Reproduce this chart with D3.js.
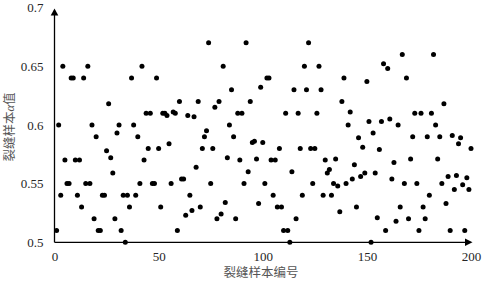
<!DOCTYPE html>
<html>
<head>
<meta charset="utf-8">
<script src="https://cdn.jsdelivr.net/npm/d3@7"></script>
<style>
  body { margin: 0; background: #fff; }
  svg { display: block; }
</style>
</head>
<body>
<svg id="chart" width="482" height="285"></svg>
<script>
// alpha value of each crack sample, sample no. 1..200
const alphaValues = [
  0.51, 0.60, 0.54, 0.65, 0.57, 0.55, 0.55, 0.64, 0.64, 0.57,
  0.54, 0.57, 0.53, 0.64, 0.55, 0.65, 0.55, 0.60, 0.52, 0.59,
  0.51, 0.51, 0.54, 0.54, 0.578, 0.618, 0.572, 0.559, 0.52, 0.593,
  0.60, 0.51, 0.54, 0.50, 0.54, 0.53, 0.64, 0.60, 0.54, 0.59,
  0.55, 0.65, 0.57, 0.61, 0.58, 0.61, 0.55, 0.55, 0.64, 0.58,
  0.53, 0.61, 0.61, 0.608, 0.584, 0.55, 0.611, 0.61, 0.51, 0.62,
  0.554, 0.554, 0.523, 0.608, 0.54, 0.527, 0.607, 0.564, 0.62, 0.53,
  0.58, 0.59, 0.595, 0.67, 0.55, 0.58, 0.615, 0.52, 0.62, 0.524,
  0.65, 0.534, 0.572, 0.60, 0.63, 0.59, 0.52, 0.61, 0.57, 0.61,
  0.55, 0.67, 0.56, 0.62, 0.585, 0.586, 0.571, 0.533, 0.632, 0.585,
  0.55, 0.64, 0.64, 0.57, 0.54, 0.57, 0.53, 0.58, 0.53, 0.51,
  0.61, 0.51, 0.50, 0.56, 0.63, 0.52, 0.61, 0.58, 0.54, 0.65,
  0.63, 0.67, 0.58, 0.55, 0.58, 0.61, 0.65, 0.63, 0.54, 0.57,
  0.559, 0.562, 0.54, 0.55, 0.571, 0.548, 0.526, 0.62, 0.64, 0.55,
  0.60, 0.611, 0.554, 0.566, 0.53, 0.589, 0.556, 0.581, 0.559, 0.637,
  0.603, 0.50, 0.593, 0.559, 0.521, 0.579, 0.603, 0.652, 0.51, 0.648,
  0.605, 0.554, 0.568, 0.518, 0.60, 0.53, 0.66, 0.55, 0.64, 0.52,
  0.571, 0.59, 0.61, 0.55, 0.51, 0.61, 0.53, 0.52, 0.59, 0.54,
  0.61, 0.66, 0.60, 0.571, 0.59, 0.55, 0.618, 0.533, 0.556, 0.51,
  0.591, 0.545, 0.557, 0.584, 0.589, 0.549, 0.51, 0.555, 0.545, 0.58
];

const xTicks = [0, 50, 100, 150, 200];
const yTicks = [0.5, 0.55, 0.6, 0.65, 0.7];
const xTitle = "裂缝样本编号";
const yTitle = "裂缝样本";

const svg = d3.select("#chart");

const x = d3.scaleLinear().domain([0, 200]).range([54.5, 471]);
const y = d3.scaleLinear().domain([0.5, 0.7]).range([242.3, 7.5]);

const tickFont = "'Liberation Serif', 'Times New Roman', serif";

// y tick labels
svg.append("g")
  .attr("transform", "translate(54.5,0)")
  .call(d3.axisLeft(y).tickValues(yTicks).tickSize(0).tickPadding(11)
    .tickFormat(d => d3.format("")(+d.toFixed(2))))
  .call(g => g.select(".domain").remove())
  .selectAll("text")
  .attr("font-family", tickFont)
  .attr("font-size", 13)
  .attr("fill", "#262626");

// x tick labels
svg.append("g")
  .attr("transform", "translate(0,242.3)")
  .call(d3.axisBottom(x).tickValues(xTicks).tickSize(0).tickPadding(9))
  .call(g => g.select(".domain").remove())
  .selectAll("text")
  .attr("font-family", tickFont)
  .attr("font-size", 13)
  .attr("fill", "#262626");

// axis lines with arrow heads
svg.append("line")
  .attr("x1", x(0)).attr("y1", y(0.5))
  .attr("x2", 465).attr("y2", y(0.5))
  .attr("stroke", "#000").attr("stroke-width", 1.3);
svg.append("path")
  .attr("d", `M465,${y(0.5) - 3.8}L472.5,${y(0.5)}L465,${y(0.5) + 3.8}Z`)
  .attr("fill", "#000");

svg.append("line")
  .attr("x1", x(0)).attr("y1", y(0.5))
  .attr("x2", x(0)).attr("y2", 15)
  .attr("stroke", "#000").attr("stroke-width", 1.3);
svg.append("path")
  .attr("d", `M${x(0) - 3.8},15.5L${x(0)},8.5L${x(0) + 3.8},15.5Z`)
  .attr("fill", "#000");

// points
svg.append("g")
  .selectAll("circle")
  .data(alphaValues)
  .enter()
  .append("circle")
  .attr("cx", (d, i) => x(i + 1))
  .attr("cy", d => y(d))
  .attr("r", 2.5)
  .attr("fill", "#000");

// axis titles
svg.append("text")
  .attr("x", 261)
  .attr("y", 274)
  .attr("text-anchor", "middle")
  .attr("dominant-baseline", "middle")
  .attr("font-family", "'Noto Sans CJK SC', sans-serif")
  .attr("font-size", 12.5)
  .attr("fill", "#555")
  .text(xTitle);

const yt = svg.append("text")
  .attr("transform", "translate(11,127) rotate(-90)")
  .attr("text-anchor", "middle")
  .attr("dominant-baseline", "middle")
  .attr("font-family", "'Noto Sans CJK SC', sans-serif")
  .attr("font-size", 12.5)
  .attr("fill", "#555");
yt.append("tspan").text(yTitle);
yt.append("tspan")
  .attr("font-family", tickFont)
  .attr("font-style", "italic")
  .text("α");
yt.append("tspan").text("值");
</script>
</body>
</html>
